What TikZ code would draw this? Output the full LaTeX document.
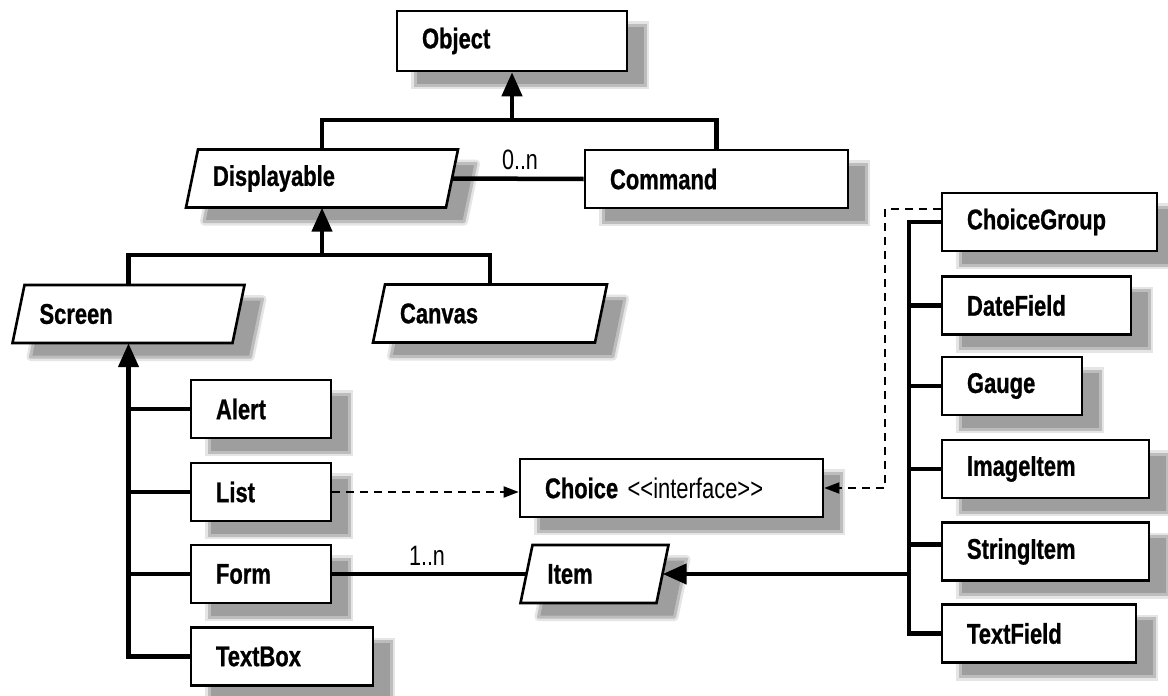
\documentclass[tikz,border=0pt]{standalone}
\usepackage{fontspec}
\newfontfamily\umlfont{Liberation Sans}[FakeStretch=0.77,BoldFeatures={FakeBold=0.8}]
\usetikzlibrary{arrows.meta,calc,shadows}

\tikzset{
  umltext/.style={font=\umlfont\fontsize{28.5}{31}\selectfont\bfseries},
  multtext/.style={font=\umlfont\fontsize{28}{31}\selectfont},
  soft shadow/.style={
    general shadow={shadow xshift=18pt,shadow yshift=-14pt,fill=black!16,draw=black!10,line width=8pt},
    general shadow={shadow xshift=18pt,shadow yshift=-14pt,fill=black!38,draw=black!26,line width=3pt}},
  cls/.style={draw,line width=2.6pt,fill=white,inner xsep=25pt,inner ysep=2pt,
    align=left,umltext,soft shadow},
  slanttext/.style={minimum height=58pt,inner xsep=21pt,inner ysep=2pt,align=left,umltext},
  slant halo/.style={fill=black!16,draw=black!10,line width=8pt,line join=round},
  slant shadow/.style={fill=black!38,draw=black!26,line width=3pt,line join=round},
  slant frame/.style={draw,fill=white,line width=2.6pt},
  conn/.style={line width=4.5pt},
  inherit/.style={conn,-{Triangle[length=24pt,width=20pt]}},
  dep/.style={line width=1.8pt,dash pattern=on 8pt off 6pt,-{Triangle[length=15pt,width=11pt]}},
}

% rectangular class box: [height]{name}{x}{y}{width}{label}
\newcommand\classbox[6][58]{%
  \pgfmathsetmacro\tw{#5-50}%
  \node[cls,minimum height=#1pt,text width=\tw pt] (#2) at (#3,#4) {#6};}

% slanted (abstract) class box: {name}{x}{y}{width at mid-height}{label}
\newcommand\slantclass[5]{%
  \begin{scope}[shift={(#2,#3)}]
    \path[slant halo] (-#4/2+12,43) -- (#4/2+12,43) -- (#4/2+24,-15) -- (-#4/2+24,-15) -- cycle;
    \path[slant shadow] (-#4/2+12,43) -- (#4/2+12,43) -- (#4/2+24,-15) -- (-#4/2+24,-15) -- cycle;
    \path[slant frame] (-#4/2-6,29) -- (#4/2-6,29) -- (#4/2+6,-29) -- (-#4/2+6,-29) -- cycle;
  \end{scope}
  \pgfmathsetmacro\tw{#4-42}%
  \node[slanttext,text width=\tw pt] (#1) at (#2,#3) {#5};}

\begin{document}
\begin{tikzpicture}[x=1pt,y=-1pt]
  \useasboundingbox (0,0) rectangle (1168,696);
  \fill[white] (0,0) rectangle (1168,696);

  % classes
  \classbox[60]{obj}{512}{41}{230}{Object}
  \slantclass{disp}{322}{178.5}{260}{Displayable}
  \classbox{cmd}{716.5}{179}{263}{Command}
  \slantclass{screen}{128.5}{314}{220}{Screen}
  \slantclass{canvas}{490}{313.5}{222}{Canvas}
  \classbox{alert}{261}{409}{140}{Alert}
  \classbox{list}{261}{492}{140}{List}
  \classbox{form}{261}{574}{140}{Form}
  \classbox{textbox}{282}{656.5}{182}{TextBox}
  \classbox{choice}{671.5}{488}{303}{Choice \mdseries<\kern0pt<interface>\kern0pt>}
  \slantclass{item}{594.5}{574}{136}{Item}
  \classbox{cg}{1049.5}{222}{215}{ChoiceGroup}
  \classbox{df}{1036.5}{305.5}{189}{DateField}
  \classbox{gauge}{1012}{386}{140}{Gauge}
  \classbox{ii}{1045.5}{469}{207}{ImageItem}
  \classbox{si}{1045.5}{551.5}{207}{StringItem}
  \classbox{tf}{1039}{633.5}{194}{TextField}

  % multiplicities
  \node[multtext] (m1) at (520,160) {0..n};
  \node[multtext] (m2) at (427,556) {1..n};

  % Object hierarchy
  \coordinate (j1) at (512,120);
  \draw[conn] (disp.north) |- (j1) -| (cmd.north);
  \draw[inherit] (j1) -- (obj.south);
  \draw[conn] (disp.east) -- (cmd.west);

  % Displayable hierarchy
  \coordinate (j2) at (322,255);
  \draw[conn] (screen.north) |- (j2) -| (canvas.north);
  \draw[inherit] (j2) -- (disp.south);

  % Screen hierarchy
  \draw[inherit] (textbox.west) -| (screen.south);
  \foreach \n in {alert,list,form}
    \draw[conn] (\n.west) -- (\n.west -| screen.south);

  % Choice interface
  \draw[dep] (list.east) -- (list.east -| choice.west);
  \coordinate (dg) at (885,0);
  \draw[dep] ([yshift=13pt]cg.west) -| (dg |- choice.east) -- (choice.east);

  % Item hierarchy
  \coordinate (rs) at (909,0);
  \draw[conn] (cg.west) -| (rs |- tf.west) -- (tf.west);
  \foreach \n in {df,gauge,ii}
    \draw[conn] (\n.west) -- (\n.west -| rs);
  \draw[conn] ([yshift=7pt]si.west) -- ([yshift=7pt]si.west -| rs);
  \draw[inherit] (rs |- item.east) -- (item.east);
  \draw[conn] (form.east) -- (item.west);
\end{tikzpicture}
\end{document}
